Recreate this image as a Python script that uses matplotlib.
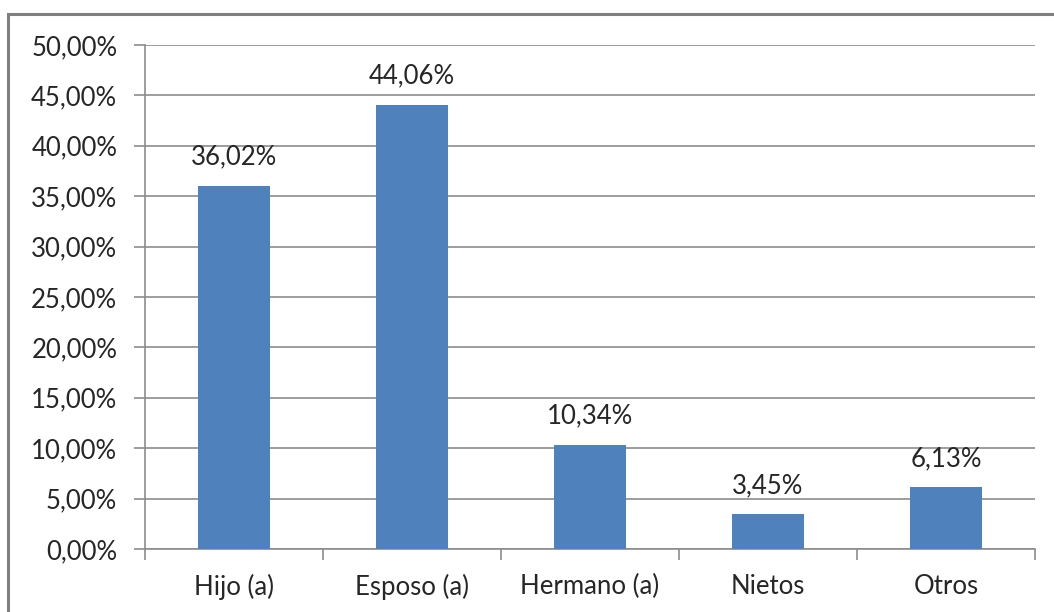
import matplotlib
matplotlib.use("Agg")
import matplotlib.pyplot as plt
from matplotlib.patches import Rectangle
from matplotlib.ticker import FuncFormatter, MultipleLocator

categorias = ["Hijo (a)", "Esposo (a)", "Hermano (a)", "Nietos", "Otros"]
porcentajes = [36.02, 44.06, 10.34, 3.45, 6.13]

plt.rcParams['font.family'] = ['Lato', 'DejaVu Sans']

fig = plt.figure(figsize=(10.54, 6.12), dpi=100)
ax = fig.add_axes([0.1376, 0.103, 0.8444, 0.8235])

# marco gris alrededor del gráfico
fig.patches.append(Rectangle((0.0075, -0.05), 1.05, 1.027, transform=fig.transFigure,
                             fill=False, edgecolor="#7f7f7f", linewidth=2.2))

x = range(len(categorias))
ax.bar(x, porcentajes, width=0.4, color="#4F81BD", zorder=3)

for i, v in zip(x, porcentajes):
    ax.text(i, v + 1.6, "{:.2f}%".format(v).replace(".", ","), ha="center", va="bottom",
            fontsize=18.5, color="#262626")

ax.set_xlim(-0.5, len(categorias) - 0.5)
ax.set_ylim(0, 50)
ax.yaxis.set_major_locator(MultipleLocator(5))
ax.yaxis.set_major_formatter(FuncFormatter(lambda v, p: "{:.2f}%".format(v).replace(".", ",")))
ax.grid(axis="y", color="#8c8c8c", linewidth=1.2, zorder=0)

ax.set_xticks(list(x))
ax.set_xticklabels(categorias)
ax.set_xticks([i - 0.5 for i in range(len(categorias) + 1)], minor=True)
ax.tick_params(axis="x", which="major", length=0, pad=18, labelsize=18.5, labelcolor="#262626")
ax.tick_params(axis="x", which="minor", length=8, color="#8c8c8c", width=1.2)
ax.tick_params(axis="y", length=8, color="#8c8c8c", width=1.2, pad=12, labelsize=18.5,
               labelcolor="#262626")

for s in ["top", "right"]:
    ax.spines[s].set_visible(False)
ax.spines["left"].set_color("#8c8c8c")
ax.spines["bottom"].set_color("#8c8c8c")
ax.spines["left"].set_linewidth(1.2)
ax.spines["bottom"].set_linewidth(1.2)

fig.savefig("out.png", dpi=100)
